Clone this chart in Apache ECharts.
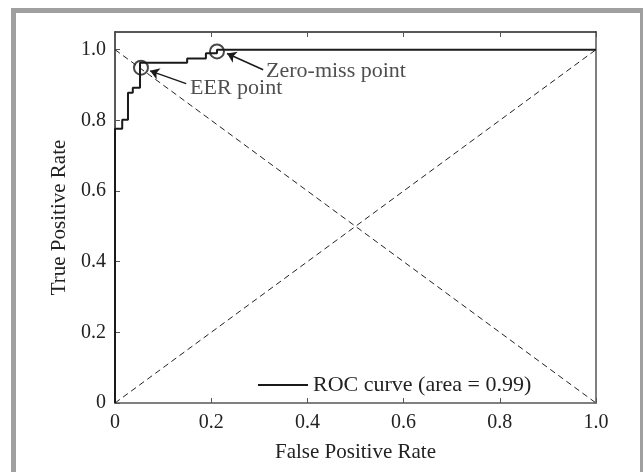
<!DOCTYPE html>
<html>
<head>
<meta charset="utf-8">
<script src="https://cdn.jsdelivr.net/npm/echarts@6/dist/echarts.min.js"></script>
<style>
html,body{margin:0;padding:0;background:#fff;}
#chart{width:643px;height:472px;}
</style>
</head>
<body>
<div id="chart"></div>
<script>
// ROC curve points (FPR, TPR)
var rocFpr = [0, 0, 0.015, 0.015, 0.027, 0.027, 0.037, 0.037, 0.052, 0.052, 0.150, 0.150, 0.189, 0.189, 0.212, 0.212, 1.0];
var rocTpr = [0, 0.776, 0.776, 0.802, 0.802, 0.878, 0.878, 0.892, 0.892, 0.963, 0.963, 0.975, 0.975, 0.990, 0.990, 1.0, 1.0];
// dashed reference diagonals
var diagUp = [[0, 0], [1, 1]];
var diagDown = [[0, 1], [1, 0]];
// marked points: EER and zero-miss
var markNames = ['EER point', 'Zero-miss point'];
var markPts = [[0.054, 0.949], [0.212, 0.995]];
var labelPts = [[0.156, 0.892], [0.314, 0.940]];
var arrowTail = [[0.148, 0.904], [0.308, 0.943]];
var arrowHead = [[0.073, 0.940], [0.233, 0.989]];
var rocName = 'ROC curve (area = 0.99)';

var FONT = '"Liberation Serif", "DejaVu Serif", serif';

function tickFmt(v) {
	var r = Math.round(v * 10) / 10;
	if (Math.abs(v - r) > 1e-6) return '';
	if (r === 0) return '0';
	return r.toFixed(1);
}

var rocData = [];
for (var i = 0; i < rocFpr.length; i++) {
	rocData.push([rocFpr[i], rocTpr[i]]);
}
var arrows = [];
var labels = [];
for (var j = 0; j < markNames.length; j++) {
	arrows.push({coords: [arrowTail[j], arrowHead[j]]});
	labels.push({name: markNames[j], value: labelPts[j]});
}

var chart = echarts.init(document.getElementById('chart'));
var option = {
	backgroundColor: '#fff',
	animation: false,
	textStyle: {fontFamily: FONT},
	graphic: [{
		type: 'rect',
		shape: {x: 13.5, y: 10.5, width: 629, height: 500},
		style: {fill: 'none', stroke: '#a0a0a0', lineWidth: 5},
		silent: true
	}],
	grid: {left: 115, right: 47, top: 32, bottom: 69},
	legend: {
		data: [rocName],
		left: 253,
		top: 369,
		icon: 'rect',
		itemWidth: 50,
		itemHeight: 2,
		itemGap: 10,
		textStyle: {fontFamily: FONT, fontSize: 22, color: '#222'}
	},
	xAxis: [{
		type: 'value', min: 0, max: 1, interval: 0.2,
		name: 'False Positive Rate', nameLocation: 'middle', nameGap: 39,
		nameTextStyle: {fontFamily: FONT, fontSize: 21, color: '#222'},
		axisLine: {onZero: false, lineStyle: {color: '#808080', width: 2}},
		axisTick: {inside: true, length: 5, lineStyle: {color: '#555'}},
		axisLabel: {formatter: tickFmt, fontFamily: FONT, fontSize: 20, color: '#222', margin: 10},
		splitLine: {show: false}
	}, {
		type: 'value', min: 0, max: 1, interval: 0.2, position: 'top',
		axisLine: {onZero: false, lineStyle: {color: '#222', width: 1.5}},
		axisTick: {inside: true, length: 5, lineStyle: {color: '#555'}},
		axisLabel: {show: false},
		splitLine: {show: false}
	}],
	yAxis: [{
		type: 'value', min: 0, max: 1.05, interval: 0.2,
		name: 'True Positive Rate', nameLocation: 'middle', nameGap: 42,
		nameTextStyle: {fontFamily: FONT, fontSize: 21, color: '#222'},
		axisLine: {onZero: false, lineStyle: {color: '#222', width: 1.5}},
		axisTick: {inside: true, length: 5, lineStyle: {color: '#555'}},
		axisLabel: {formatter: tickFmt, fontFamily: FONT, fontSize: 20, color: '#222', margin: 9},
		splitLine: {show: false}
	}, {
		type: 'value', min: 0, max: 1.05, interval: 0.2, position: 'right',
		axisLine: {onZero: false, lineStyle: {color: '#808080', width: 2}},
		axisTick: {show: false},
		axisLabel: {show: false},
		splitLine: {show: false}
	}],
	series: [{
		type: 'line', name: 'diag1', data: diagUp, symbol: 'none', silent: true,
		lineStyle: {color: '#222', width: 1, type: [6, 4]}
	}, {
		type: 'line', name: 'diag2', data: diagDown, symbol: 'none', silent: true,
		lineStyle: {color: '#222', width: 1, type: [6, 4]}
	}, {
		type: 'line', name: rocName, data: rocData, symbol: 'none',
		lineStyle: {color: '#1a1a1a', width: 2},
		itemStyle: {color: '#1a1a1a'}
	}, {
		type: 'scatter', name: 'marks', data: markPts, symbol: 'circle', symbolSize: 14,
		itemStyle: {color: 'rgba(0,0,0,0)', borderColor: '#1a1a1a', borderWidth: 2}
	}, {
		type: 'lines', coordinateSystem: 'cartesian2d', name: 'arrows', data: arrows,
		symbol: ['none', 'arrow'], symbolSize: 9,
		lineStyle: {color: '#1a1a1a', width: 1.5, opacity: 1}
	}, {
		type: 'scatter', name: 'labels', data: labels, symbolSize: 0,
		label: {
			show: true, position: 'right', distance: 0,
			formatter: '{b}', fontFamily: FONT, fontSize: 22, color: '#222'
		}
	}]
};
chart.setOption(option);
</script>
</body>
</html>
